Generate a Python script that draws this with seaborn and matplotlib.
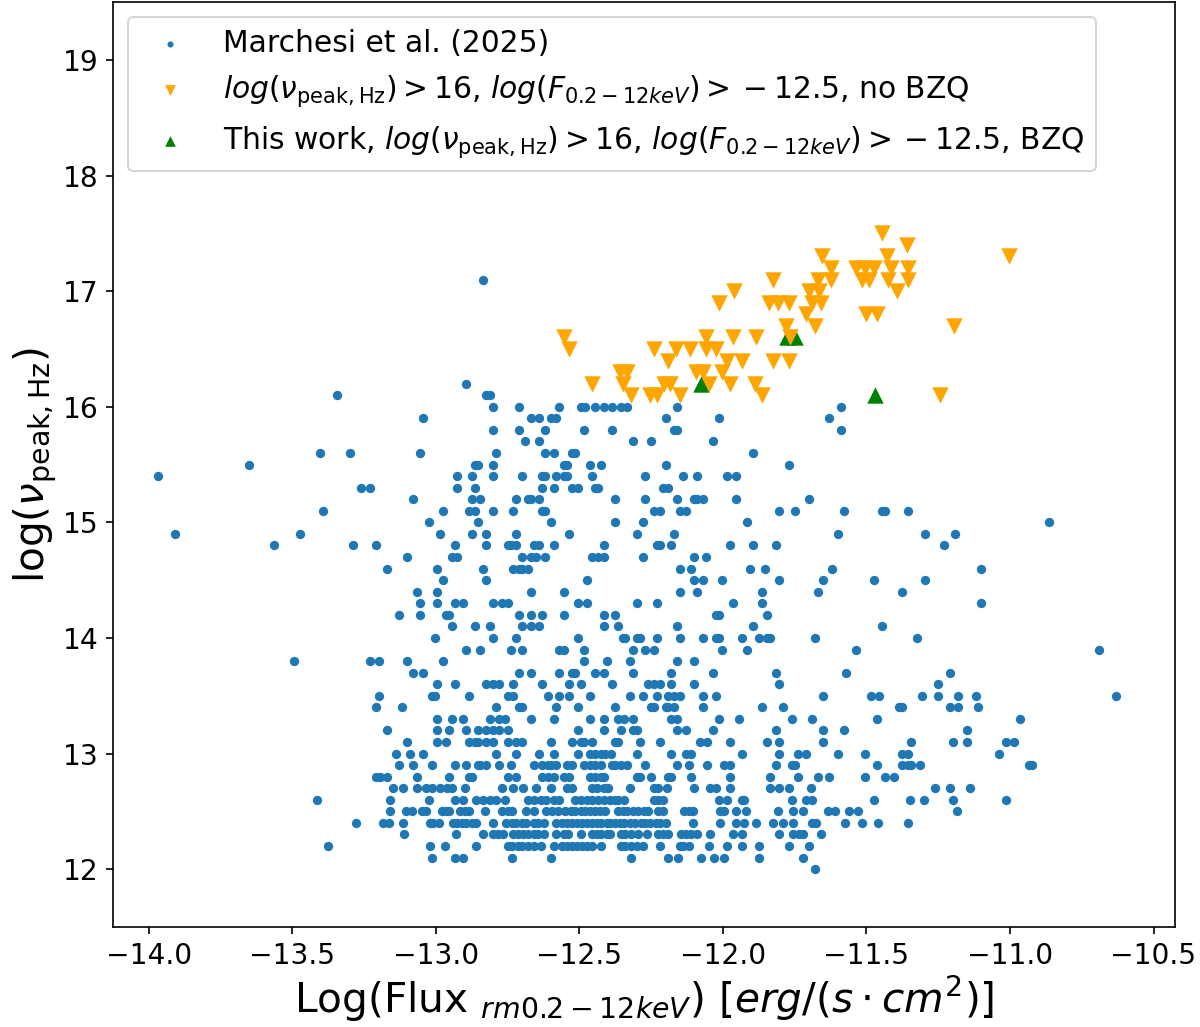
import matplotlib
matplotlib.use("Agg")
import matplotlib.pyplot as plt
import numpy as np
import pandas as pd
import seaborn as sns

# Marchesi et al. (2025): log(nu_peak) levels and the log flux values on each level
nu_levels = [17.1, 16.2, 16.1, 16.0, 15.9, 15.8, 15.7, 15.6, 15.5, 15.4, 15.3, 15.2, 15.1, 15.0,
             14.9, 14.8, 14.7, 14.6, 14.5, 14.4, 14.3, 14.2, 14.1, 14.0, 13.9, 13.8, 13.7, 13.6,
             13.5, 13.4, 13.3, 13.2, 13.1, 13.0, 12.9, 12.8, 12.7, 12.6, 12.5, 12.4, 12.3, 12.2,
             12.1, 12.0]

flux_171 = [-12.835]
flux_162 = [-12.895]
flux_161 = [-13.345, -12.825, -12.81]
flux_160 = [-12.80, -12.71, -12.57, -12.495, -12.48, -12.445, -12.415, -12.385, -12.355, -12.335,
            -12.16, -11.59]
flux_159 = [-13.045, -12.67, -12.64, -12.60, -12.58, -12.20, -12.015, -11.63]
flux_158 = [-12.80, -12.71, -12.62, -12.485, -12.385, -12.17, -12.16, -11.59]
flux_157 = [-12.69, -12.64, -12.315, -12.25, -12.035]
flux_156 = [-13.405, -13.30, -13.055, -12.79, -12.62, -12.59, -12.525, -12.515, -11.895]
flux_155 = [-13.65, -12.865, -12.855, -12.80, -12.555, -12.545, -12.465, -12.425, -12.20, -11.77]
flux_154 = [-13.97, -12.925, -12.875, -12.80, -12.70, -12.63, -12.62, -12.58, -12.555, -12.545,
            -12.455, -12.27, -12.14, -12.09, -11.985, -11.955]
flux_153 = [-13.26, -13.23, -12.925, -12.865, -12.63, -12.59, -12.525, -12.505, -12.445, -12.435,
            -12.21, -12.19]
flux_152 = [-13.08, -12.875, -12.845, -12.72, -12.68, -12.67, -12.64, -12.375, -12.27, -12.16,
            -12.10, -12.09, -12.07, -11.955, -11.70]
flux_151 = [-13.395, -12.975, -12.885, -12.865, -12.80, -12.73, -12.63, -12.62, -12.24, -12.22,
            -12.15, -12.13, -11.805, -11.75, -11.58, -11.445, -11.435, -11.355]
flux_150 = [-13.025, -12.855, -12.60, -12.375, -12.28, -11.915, -10.865]
flux_149 = [-13.91, -13.475, -12.985, -12.875, -12.825, -12.72, -12.535, -12.30, -12.17, -11.60,
            -11.295, -11.19]
flux_148 = [-13.565, -13.29, -13.21, -12.935, -12.825, -12.75, -12.74, -12.72, -12.66, -12.64,
            -12.59, -12.415, -12.23, -12.22, -12.18, -11.975, -11.895, -11.815, -11.23]
flux_147 = [-13.10, -12.945, -12.925, -12.70, -12.67, -12.65, -12.62, -12.455, -12.435, -12.415,
            -12.28, -12.10, -12.06]
flux_146 = [-13.17, -12.995, -12.835, -12.73, -12.71, -12.70, -12.68, -12.15, -12.11, -11.905,
            -11.855, -11.62, -11.10]
flux_145 = [-12.975, -12.825, -12.475, -12.10, -12.07, -12.005, -11.805, -11.65, -11.475, -11.295]
flux_144 = [-13.065, -12.995, -12.67, -12.555, -12.15, -12.09, -11.865, -11.67, -11.375]
flux_143 = [-13.055, -12.995, -12.935, -12.905, -12.80, -12.77, -12.75, -12.505, -12.475, -12.30,
            -12.23, -11.965, -11.865, -11.10]
flux_142 = [-13.13, -13.055, -12.965, -12.955, -12.71, -12.67, -12.63, -12.555, -12.415, -12.375,
            -12.025, -12.015, -11.845]
flux_141 = [-12.945, -12.865, -12.81, -12.70, -12.67, -12.64, -12.415, -12.365, -12.16, -11.895,
            -11.445]
flux_140 = [-13.005, -12.80, -12.72, -12.505, -12.35, -12.34, -12.30, -12.29, -12.23, -12.15, -12.07,
            -12.025, -12.015, -11.935, -11.875, -11.845, -11.835, -11.68, -11.325]
flux_139 = [-12.895, -12.845, -12.74, -12.70, -12.57, -12.555, -12.485, -12.315, -12.27, -12.24,
            -12.005, -11.915, -11.535, -10.69]
flux_138 = [-13.495, -13.23, -13.20, -13.10, -12.975, -12.485, -12.405, -12.325, -12.16, -12.10]
flux_137 = [-13.08, -13.045, -12.71, -12.67, -12.57, -12.525, -12.515, -12.445, -12.415, -12.315,
            -12.18, -12.035, -11.815, -11.57, -11.21]
flux_136 = [-12.995, -12.935, -12.825, -12.80, -12.78, -12.73, -12.63, -12.535, -12.495, -12.385,
            -12.26, -12.24, -12.22, -12.18, -12.10, -11.805, -11.25]
flux_135 = [-13.20, -13.015, -13.005, -12.885, -12.75, -12.73, -12.61, -12.57, -12.535, -12.465,
            -12.325, -12.28, -12.23, -12.19, -12.17, -12.15, -12.07, -12.025, -11.65, -11.485,
            -11.455, -11.305, -11.25, -11.18, -11.12, -10.63]
flux_134 = [-13.21, -13.12, -12.79, -12.71, -12.70, -12.58, -12.505, -12.375, -12.25, -12.24, -12.20,
            -12.19, -12.17, -12.07, -11.865, -11.79, -11.385, -11.375, -11.21, -11.18, -11.11]
flux_133 = [-12.995, -12.945, -12.905, -12.81, -12.78, -12.76, -12.67, -12.59, -12.465, -12.415,
            -12.365, -12.345, -12.315, -12.18, -12.16, -12.015, -11.945, -11.76, -11.69, -11.465,
            -10.965]
flux_132 = [-13.17, -12.995, -12.955, -12.895, -12.855, -12.825, -12.80, -12.78, -12.75, -12.505,
            -12.415, -12.355, -12.315, -12.30, -12.16, -12.13, -12.035, -11.815, -11.65, -11.58,
            -11.15]
flux_131 = [-13.10, -12.995, -12.965, -12.885, -12.865, -12.855, -12.825, -12.80, -12.75, -12.72,
            -12.70, -12.60, -12.525, -12.495, -12.485, -12.455, -12.375, -12.365, -12.29, -12.22,
            -12.08, -12.055, -11.975, -11.845, -11.805, -11.65, -11.345, -11.20, -11.15, -11.015,
            -10.985]
flux_130 = [-13.14, -13.09, -13.045, -12.79, -12.72, -12.64, -12.59, -12.505, -12.465, -12.445,
            -12.425, -12.41, -12.39, -12.30, -12.18, -12.13, -12.11, -11.935, -11.805, -11.74,
            -11.71, -11.60, -11.505, -11.375, -11.355, -11.04]
flux_129 = [-13.13, -13.08, -13.015, -12.935, -12.895, -12.855, -12.845, -12.825, -12.78, -12.74,
            -12.66, -12.63, -12.61, -12.60, -12.58, -12.545, -12.525, -12.485, -12.465, -12.445,
            -12.425, -12.385, -12.375, -12.355, -12.335, -12.27, -12.16, -12.12, -12.055, -11.995,
            -11.975, -11.815, -11.76, -11.75, -11.465, -11.375, -11.355, -11.345, -11.315, -10.935,
            -10.925]
flux_128 = [-13.21, -13.195, -13.17, -13.065, -12.955, -12.885, -12.875, -12.75, -12.72, -12.63,
            -12.61, -12.59, -12.555, -12.535, -12.465, -12.445, -12.425, -12.415, -12.30, -12.29,
            -12.25, -12.19, -12.18, -12.11, -11.975, -11.835, -11.74, -11.67, -11.63, -11.505,
            -11.435, -11.405]
flux_127 = [-13.15, -13.115, -13.065, -13.035, -13.015, -12.985, -12.96, -12.945, -12.90, -12.77,
            -12.73, -12.695, -12.65, -12.60, -12.545, -12.525, -12.455, -12.44, -12.415, -12.40,
            -12.325, -12.24, -12.225, -12.195, -12.10, -12.045, -12.025, -11.975, -11.835, -11.805,
            -11.77, -11.695, -11.26, -11.21, -11.14]
flux_126 = [-13.415, -13.16, -13.025, -12.935, -12.905, -12.86, -12.835, -12.81, -12.79, -12.76,
            -12.68, -12.66, -12.635, -12.615, -12.59, -12.57, -12.515, -12.495, -12.475, -12.455,
            -12.435, -12.415, -12.395, -12.375, -12.365, -12.345, -12.24, -12.225, -12.21, -12.015,
            -11.985, -11.935, -11.925, -11.76, -11.71, -11.69, -11.475, -11.35, -11.30, -11.20,
            -11.015]
flux_125 = [-13.16, -13.105, -13.085, -13.05, -13.035, -12.98, -12.965, -12.955, -12.915, -12.90,
            -12.885, -12.83, -12.77, -12.75, -12.735, -12.685, -12.66, -12.615, -12.595, -12.575,
            -12.55, -12.53, -12.515, -12.495, -12.48, -12.465, -12.445, -12.43, -12.41, -12.365,
            -12.35, -12.335, -12.315, -12.295, -12.275, -12.26, -12.225, -12.21, -12.135, -12.12,
            -12.105, -12.01, -11.995, -11.955, -11.92, -11.81, -11.755, -11.72, -11.635, -11.61,
            -11.56, -11.53, -11.185]
flux_124 = [-13.28, -13.185, -13.165, -13.115, -13.02, -13.01, -12.99, -12.94, -12.925, -12.91,
            -12.895, -12.875, -12.86, -12.80, -12.755, -12.735, -12.72, -12.70, -12.685, -12.66,
            -12.645, -12.625, -12.58, -12.56, -12.545, -12.525, -12.51, -12.49, -12.475, -12.455,
            -12.44, -12.425, -12.405, -12.395, -12.375, -12.36, -12.345, -12.325, -12.305, -12.285,
            -12.27, -12.255, -12.235, -12.22, -12.20, -12.105, -12.01, -11.955, -11.925, -11.885,
            -11.825, -11.79, -11.755, -11.69, -11.675, -11.575, -11.515, -11.46, -11.355]
flux_123 = [-13.11, -12.93, -12.835, -12.80, -12.785, -12.765, -12.73, -12.715, -12.695, -12.68,
            -12.66, -12.645, -12.625, -12.58, -12.555, -12.54, -12.495, -12.455, -12.44, -12.425,
            -12.405, -12.395, -12.355, -12.34, -12.32, -12.295, -12.265, -12.225, -12.21, -12.19,
            -12.145, -12.13, -12.11, -12.09, -12.045, -11.965, -11.935, -11.805, -11.755, -11.735,
            -11.72, -11.66]
flux_122 = [-13.375, -13.02, -12.97, -12.86, -12.75, -12.735, -12.715, -12.70, -12.68, -12.66,
            -12.635, -12.59, -12.56, -12.545, -12.525, -12.51, -12.49, -12.475, -12.455, -12.425,
            -12.355, -12.34, -12.32, -12.30, -12.28, -12.22, -12.15, -12.14, -12.12, -12.05,
            -11.985, -11.935, -11.875, -11.77, -11.70]
flux_121 = [-13.015, -12.935, -12.905, -12.735, -12.60, -12.32, -12.19, -12.155, -12.075, -12.03,
            -11.995, -11.875, -11.72]
flux_120 = [-11.68]

flux_rows = [flux_171, flux_162, flux_161, flux_160, flux_159, flux_158, flux_157, flux_156,
             flux_155, flux_154, flux_153, flux_152, flux_151, flux_150, flux_149, flux_148,
             flux_147, flux_146, flux_145, flux_144, flux_143, flux_142, flux_141, flux_140,
             flux_139, flux_138, flux_137, flux_136, flux_135, flux_134, flux_133, flux_132,
             flux_131, flux_130, flux_129, flux_128, flux_127, flux_126, flux_125, flux_124,
             flux_123, flux_122, flux_121, flux_120]

# log(nu_peak) > 16, log(F) > -12.5, no BZQ
hsp_flux = [-12.555, -12.06, -11.965, -11.885, -11.765,
            -12.535, -12.24, -12.165, -12.115, -12.06, -12.025,
            -12.455, -12.35, -12.205, -12.185, -12.05, -11.975, -11.89,
            -12.36, -12.335, -12.095, -12.07, -12.005,
            -12.32, -12.255, -12.23, -12.15, -11.865, -11.245,
            -12.19, -11.985, -11.935, -11.825, -11.77,
            -12.015, -11.84, -11.81, -11.77, -11.69, -11.66,
            -11.96, -11.70, -11.665, -11.395,
            -11.825, -11.67, -11.625, -11.515, -11.49, -11.425, -11.355,
            -11.71, -11.50, -11.465,
            -11.78, -11.68, -11.195,
            -11.655, -11.43, -11.005,
            -11.625, -11.535, -11.505, -11.475, -11.415, -11.355,
            -11.36, -11.445]
hsp_nu = [16.6] * 5 + [16.5] * 6 + [16.2] * 7 + [16.3] * 5 + [16.1] * 6 + [16.4] * 5 + \
         [16.9] * 6 + [17.0] * 4 + [17.1] * 7 + [16.8] * 3 + [16.7] * 3 + [17.3] * 3 + \
         [17.2] * 6 + [17.4] + [17.5]

# this work, BZQ
bzq_flux = [-12.075, -11.776, -11.75, -11.47]
bzq_nu = [16.2, 16.6, 16.6, 16.1]

marchesi = pd.DataFrame({
    "flux": [f for row in flux_rows for f in row],
    "nu": [lev for lev, row in zip(nu_levels, flux_rows) for f in row],
})
hsp = pd.DataFrame({"flux": hsp_flux, "nu": hsp_nu})
bzq = pd.DataFrame({"flux": bzq_flux, "nu": bzq_nu})

fig, ax = plt.subplots(figsize=(8, 1027 / 150), dpi=150)
fig.subplots_adjust(left=0.0942, right=0.9792, top=0.9979, bottom=0.0974)

sns.scatterplot(data=marchesi, x="flux", y="nu", color="C0", s=20, linewidth=0,
                label="Marchesi et al. (2025)", ax=ax)
sns.scatterplot(data=hsp, x="flux", y="nu", color="orange", marker="v", s=62, linewidth=0,
                label=r"$log(\nu_{\rm peak, Hz}) > 16$, $log(F_{0.2-12keV}) > {} - 12.5$, no BZQ",
                ax=ax, zorder=3)
sns.scatterplot(data=bzq, x="flux", y="nu", color="green", marker="^", s=62, linewidth=0,
                label=r"This work, $log(\nu_{\rm peak, Hz}) > 16$, $log(F_{0.2-12keV}) > {} - 12.5$, BZQ",
                ax=ax, zorder=2.5)

ax.set_xlim(-14.125, -10.425)
ax.set_ylim(11.5, 19.5)
ax.set_xticks(np.arange(-14.0, -10.49, 0.5))
ax.set_yticks(np.arange(12, 20, 1))
ax.tick_params(labelsize=13.5)
ax.set_xlabel(r"Log(Flux $_{rm0.2-12keV}$) [$erg/(s \cdot cm^2)$]", fontsize=19.5, labelpad=2)
ax.set_ylabel(r"log($\nu_{\rm peak, Hz}$)", fontsize=19.5, labelpad=2)
ax.legend(loc="upper left", fontsize=14.3, markerscale=0.65)

fig.savefig("out.png", dpi=150)
